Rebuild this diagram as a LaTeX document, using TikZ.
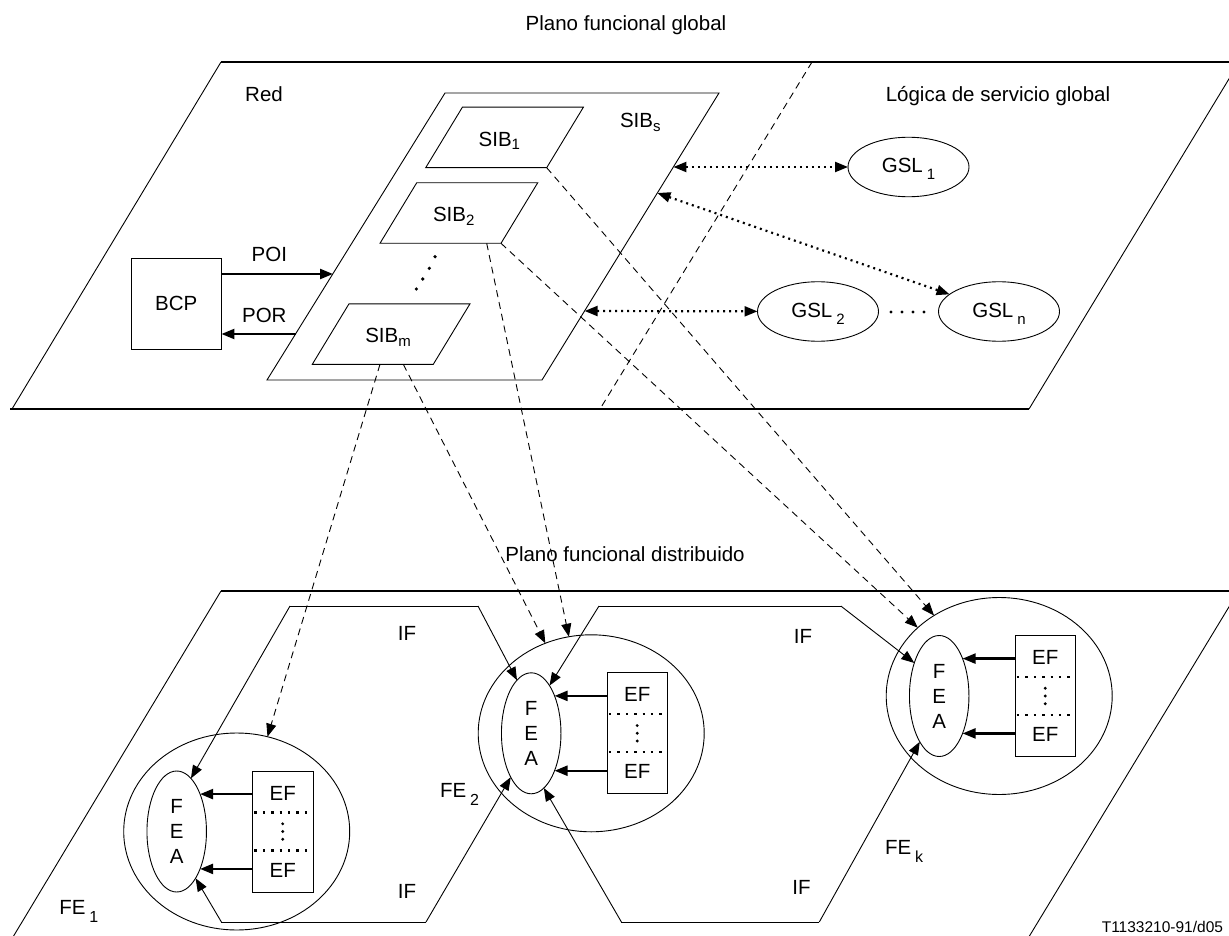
\documentclass[tikz,border=0pt]{standalone}
\usepackage{fontspec}
\setmainfont{Liberation Sans}
\usetikzlibrary{arrows.meta,shapes.geometric,calc}

% lowered indices
\newcommand\sibsub[1]{\raisebox{-3.5pt}{\fontsize{15}{15}\selectfont #1}}
\newcommand\gslsub[1]{\hspace{4pt}\raisebox{-7pt}{\fontsize{15}{15}\selectfont #1}}
\newcommand\fesub[1]{\hspace{4pt}\raisebox{-8pt}{\fontsize{16}{16}\selectfont #1}}

\tikzset{
  thinline/.style={line width=0.9pt},
  planeedge/.style={line width=2.8pt},
  boldarrow/.style={line width=2.3pt,->},
  iflink/.style={line width=0.9pt,->},
  dashlink/.style={line width=0.9pt,dash pattern=on 7pt off 5pt,->},
  divider/.style={line width=0.9pt,dash pattern=on 7pt off 5pt},
  dotlink/.style={line width=2.2pt,dash pattern=on 2pt off 4pt,<->},
  lbl/.style={inner sep=0pt,outer sep=0pt},
  gsl/.style={ellipse,draw,line width=0.9pt,minimum width=121pt,minimum height=59.5pt,
    inner sep=0pt,outer sep=0pt,text height=15pt,text depth=3.6pt},
  febig/.style={ellipse,draw,line width=0.9pt,minimum width=226pt,minimum height=197pt,
    inner sep=0pt,outer sep=0pt},
  feasmall/.style={ellipse,draw,line width=0.9pt,minimum width=59.5pt,minimum height=121pt,
    inner sep=0pt,outer sep=0pt,align=center,font=\fontsize{20.5}{25}\selectfont},
  efbox/.style={rectangle,draw,line width=0.9pt,minimum width=60.5pt,minimum height=121pt,
    inner sep=0pt,outer sep=0pt},
  efsep/.style={line width=2.2pt,dash pattern=on 2.4pt off 6pt},
}

% one functional entity: outer ellipse, FEA ellipse, EF column and its arrows
\newcommand\fegroup[3]{%
  \node[febig] (fe#1) at (#2,#3) {};
  \node[feasmall] (fea#1) at ($(fe#1)+(-60,0)$) {F\\E\\A};
  \node[efbox] (ef#1) at ($(fe#1)+(46,0)$) {};
  \node[lbl] (ef#1-a) at ($(ef#1)+(0,-38.5)$) {EF};
  \node[lbl] (ef#1-b) at ($(ef#1)+(0,38.5)$) {EF};
  \draw[efsep] ($(ef#1.west)+(2,-19)$) -- ($(ef#1.east)+(-2,-19)$);
  \draw[efsep] ($(ef#1.west)+(2,19)$) -- ($(ef#1.east)+(-2,19)$);
  \foreach \dy in {-7.7,0,7.7} \fill ($(ef#1)+(0,\dy)$) circle (1.6pt);
  \draw[boldarrow] (ef#1.west |- fea#1.58) -- (fea#1.58);
  \draw[boldarrow] (ef#1.west |- fea#1.-58) -- (fea#1.-58);
}

\begin{document}
\begin{tikzpicture}[x=1pt,y=-1pt,font=\fontsize{20.5}{24}\selectfont,
  >={Triangle[length=13pt,width=10pt]}]
\clip (0,0) rectangle (1229,936);

% plane titles
\node[lbl,anchor=base] (t-global) at (626,31) {Plano funcional global};
\node[lbl,anchor=base] (t-dist) at (625,561.5) {Plano funcional distribuido};

% ---------- global plane ----------
\draw[thinline] (221,62) -- (12,409);
\draw[thinline] (1029,409) -- (1240,60.7);
\draw[planeedge] (221,62) -- (1232,62);
\draw[planeedge] (10,409) -- (1029,409);
\draw[divider] (812,62) -- (600,409);

\node[lbl,anchor=base] (red) at (264,101.5) {Red};
\node[lbl,anchor=base] (logica) at (998,101.7) {Lógica de servicio global};

% SIB container
\coordinate (sibs-bl) at (267,380);
\coordinate (sibs-br) at (542,380);
\coordinate (sibs-tr) at (719,93);
\coordinate (sibs-tl) at (445,93);
\draw[thinline] (sibs-bl) -- (sibs-br) -- (sibs-tr) -- (sibs-tl) -- cycle;
\node[lbl,anchor=base west] (sibs) at (620,128) {SIB\sibsub{s}};

% individual SIBs
\foreach \n/\x/\y in {1/425.7/167.7, 2/380/243.3, m/312.3/364.3} {
  \coordinate (sib\n-bl) at (\x,\y);
  \coordinate (sib\n-br) at ($(sib\n-bl)+(121,0)$);
  \coordinate (sib\n-tr) at ($(sib\n-br)+(36.7,-60.5)$);
  \coordinate (sib\n-tl) at ($(sib\n-bl)+(36.7,-60.5)$);
  \draw[thinline] (sib\n-bl) -- (sib\n-br) -- (sib\n-tr) -- (sib\n-tl) -- cycle;
  \node[lbl,anchor=base west] (sib\n) at ($(sib\n-bl)+(53,-21.5)$) {SIB\sibsub{\n}};
}
\foreach \p in {(435,256.7),(429.3,268.3),(422.7,279),(416.3,289)}
  \fill \p circle (1.8pt);

% basic call process
\node[draw,thinline,minimum width=90.5pt,minimum height=91pt,inner sep=0pt,outer sep=0pt]
  (bcp) at (176.2,303.5) {BCP};
\coordinate (poi-end) at (333,274);
\coordinate (por-start) at (296,334);
\draw[boldarrow] (bcp.east |- poi-end) -- (poi-end);
\draw[boldarrow] (por-start) -- (bcp.east |- por-start);
\node[lbl,anchor=base] (poi) at (269.3,261.7) {POI};
\node[lbl,anchor=base] (por) at (264.3,322.7) {POR};

% global service logic
\node[gsl] (gsl1) at (908.5,167) {GSL\gslsub{1}};
\node[gsl] (gsl2) at (818,311.5) {GSL\gslsub{2}};
\node[gsl] (gsln) at (999,311.5) {GSL\gslsub{n}};
\coordinate (sibs-r1) at (673.4,167);
\coordinate (sibs-r2) at (657.4,193);
\coordinate (sibs-r3) at (584.6,311);
\draw[dotlink] (sibs-r1) -- (gsl1);
\draw[dotlink] (sibs-r2) -- (gsln);
\draw[dotlink] (sibs-r3) -- (gsl2);
\foreach \x in {891,902,913,924} \fill (\x,312) circle (1.6pt);

% ---------- distributed plane ----------
\draw[thinline] (221,591) -- (10,942);
\draw[thinline] (1025.8,942) -- (1241,587);
\draw[planeedge] (221,591) -- (1232,591);

\fegroup{1}{236.7}{831.5}
\fegroup{2}{591.2}{733.3}
\fegroup{k}{999.2}{696}

% information flows
\coordinate (hl-tl) at (290,606);
\coordinate (hl-tr) at (478,606);
\coordinate (hl-bl) at (221.4,922);
\coordinate (hl-br) at (426,922);
\coordinate (hr-tl) at (599,606);
\coordinate (hr-tr) at (840.8,606);
\coordinate (hr-bl) at (621.4,922);
\coordinate (hr-br) at (819.3,922);
\draw[thinline] (hl-tl) -- (hl-tr);
\draw[thinline] (hl-bl) -- (hl-br);
\draw[thinline] (hr-tl) -- (hr-tr);
\draw[thinline] (hr-bl) -- (hr-br);
\draw[iflink] (hl-tl) -- (fea1.75);
\draw[iflink] (hl-bl) -- (fea1.-68);
\draw[iflink] (hl-tr) -- (fea2.105);
\draw[iflink] (hl-br) -- (fea2.-115);
\draw[iflink] (hr-tl) -- (fea2.69);
\draw[iflink] (hr-bl) -- (fea2.-77);
\draw[iflink] (hr-tr) -- (feak.127);
\draw[iflink] (hr-br) -- (feak.-113);

\node[lbl] (if1) at (407,633) {IF};
\node[lbl] (if2) at (407,891) {IF};
\node[lbl] (if3) at (803,636) {IF};
\node[lbl] (if4) at (801.5,887) {IF};

\node[lbl,anchor=base west] (fe1lab) at (59.3,914) {FE\fesub{1}};
\node[lbl,anchor=base west] (fe2lab) at (440,797.3) {FE\fesub{2}};
\node[lbl,anchor=base west] (feklab) at (885,854) {FE\fesub{k}};

% mapping of SIBs onto functional entities
\coordinate (sibm-out1) at (380,364.3);
\coordinate (sibm-out2) at (403.3,364.3);
\coordinate (sib2-out1) at (486.7,243.3);
\draw[dashlink] (sibm-out1) -- (fe1.72);
\draw[dashlink] (sibm-out2) -- (fe2.117);
\draw[dashlink] (sib2-out1) -- (fe2.103);
\draw[dashlink] (sib2-br) -- (fek.140);
\draw[dashlink] (sib1-br) -- (fek.129.7);

\node[lbl,anchor=base east,font=\fontsize{15.5}{18}\selectfont] (code) at (1223,932) {T1133210-91/d05};
\end{tikzpicture}
\end{document}
